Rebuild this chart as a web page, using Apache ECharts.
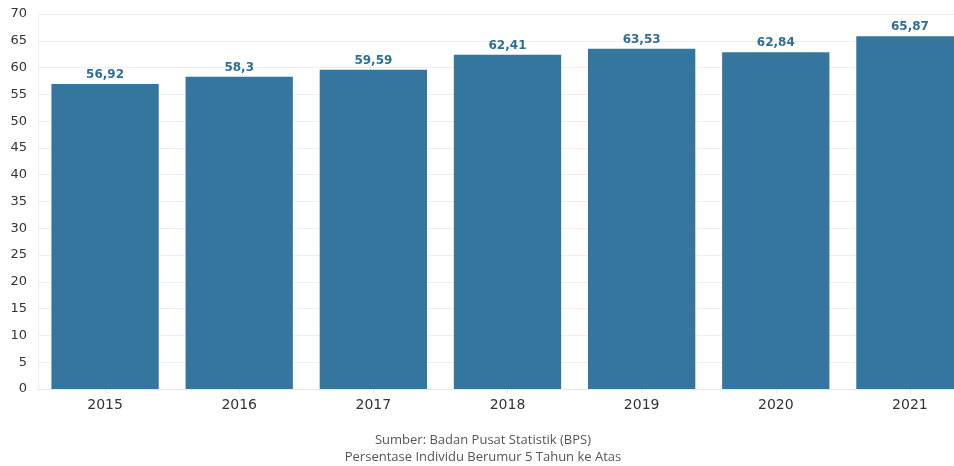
<!DOCTYPE html>
<html><head><meta charset="utf-8">
<script src="https://cdn.jsdelivr.net/npm/echarts@6/dist/echarts.min.js"></script>
<style>html,body{margin:0;padding:0;background:#fff;overflow:hidden}#c{width:977px;height:466px}</style>
</head><body><div id="c"></div>
<script>
const categories = ['2015','2016','2017','2018','2019','2020','2021'];
const values = [56.92, 58.3, 59.59, 62.41, 63.53, 62.84, 65.87];
const yTicks = {min: 0, max: 70, interval: 5};
const footer = ['Sumber: Badan Pusat Statistik (BPS)', 'Persentase Individu Berumur 5 Tahun ke Atas'];

const chart = echarts.init(document.getElementById('c'), null, {renderer: 'canvas'});
chart.setOption({
  animation: false,
  textStyle: {fontFamily: 'DejaVu Sans'},
  grid: {left: 38, top: 14, right: 0, height: 375, containLabel: false},
  graphic: [{
    type: 'text', x: 483, y: 432,
    style: {text: footer.join('\n'), fill: '#555', font: '13px "Open Sans"', lineHeight: 17, textAlign: 'center'}
  }],
  xAxis: {
    type: 'category', data: categories,
    axisLine: {lineStyle: {color: '#e6e6e6'}},
    axisTick: {show: true, alignWithLabel: true, length: 4, lineStyle: {color: '#e6e6e6'}},
    axisLabel: {color: '#333', fontSize: 14, margin: 9}
  },
  yAxis: {
    type: 'value', min: yTicks.min, max: yTicks.max, interval: yTicks.interval,
    axisLine: {show: true, lineStyle: {color: '#eeeeee'}},
    axisTick: {show: false},
    splitLine: {lineStyle: {color: '#eeeeee'}},
    axisLabel: {color: '#333', fontSize: 13, margin: 11}
  },
  series: [{
    type: 'bar', data: values, barCategoryGap: '20%',
    itemStyle: {color: '#34769e'},
    label: {
      show: true, position: 'top', distance: 3,
      color: '#2f6f96', fontWeight: 'bold', fontSize: 12,
      formatter: p => String(p.value).replace('.', ',')
    }
  }]
});
</script></body></html>
